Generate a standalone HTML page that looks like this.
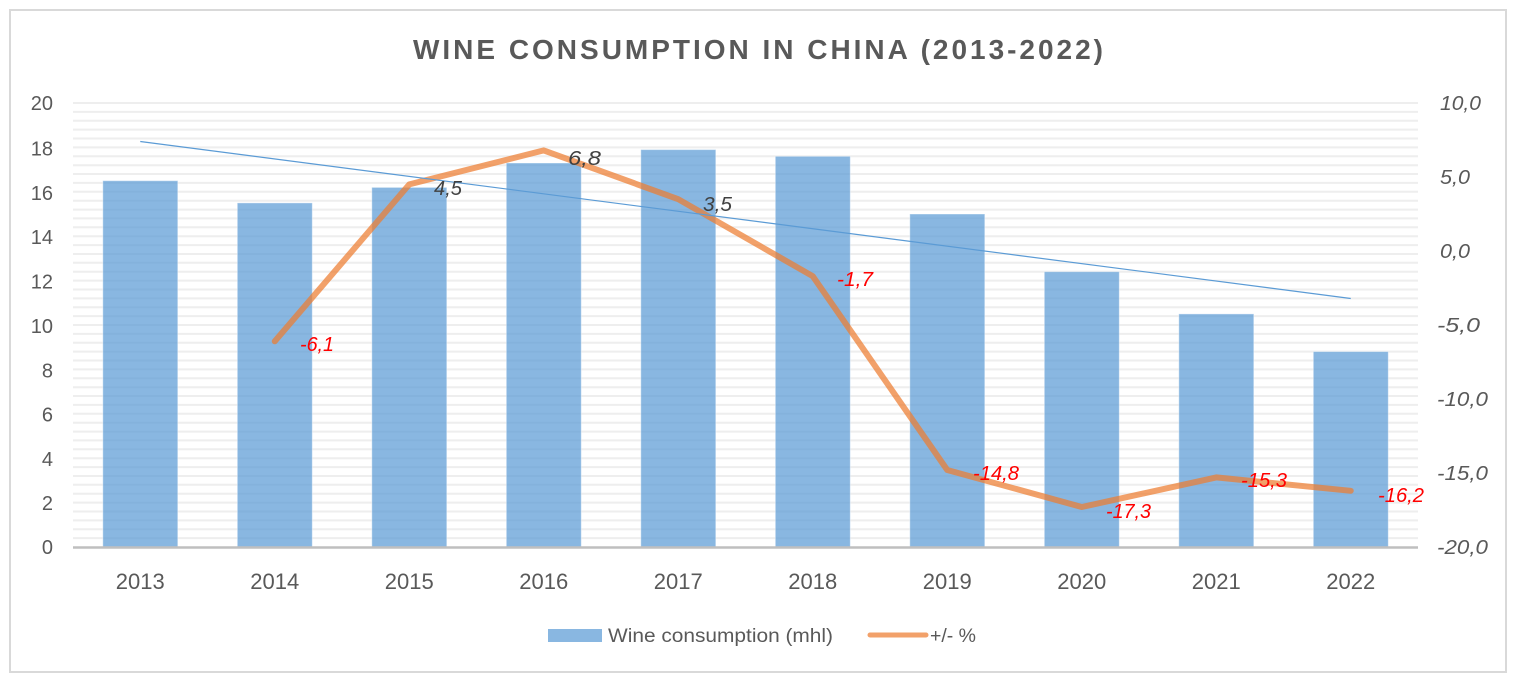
<!DOCTYPE html>
<html><head><meta charset="utf-8"><style>
html,body{margin:0;padding:0;background:#fff;}
svg{display:block;}
text{font-family:"Liberation Sans",sans-serif;}
</style></head><body>
<svg width="1516" height="680" viewBox="0 0 1516 680" xmlns="http://www.w3.org/2000/svg">
<rect x="0" y="0" width="1516" height="680" fill="#fff"/>
<rect x="10" y="10" width="1496" height="662" fill="#fff" stroke="#d9d9d9" stroke-width="2"/>
<text x="413" y="59" font-size="28" font-weight="bold" fill="#595959" textLength="690" lengthAdjust="spacing">WINE CONSUMPTION IN CHINA (2013-2022)</text>
<g stroke="#eeeeee" stroke-width="2">
<line x1="73" x2="1418" y1="103.0" y2="103.0"/><line x1="73" x2="1418" y1="111.9" y2="111.9"/><line x1="73" x2="1418" y1="120.8" y2="120.8"/><line x1="73" x2="1418" y1="129.6" y2="129.6"/><line x1="73" x2="1418" y1="138.5" y2="138.5"/><line x1="73" x2="1418" y1="147.4" y2="147.4"/><line x1="73" x2="1418" y1="156.3" y2="156.3"/><line x1="73" x2="1418" y1="165.2" y2="165.2"/><line x1="73" x2="1418" y1="174.0" y2="174.0"/><line x1="73" x2="1418" y1="182.9" y2="182.9"/><line x1="73" x2="1418" y1="191.8" y2="191.8"/><line x1="73" x2="1418" y1="200.7" y2="200.7"/><line x1="73" x2="1418" y1="209.6" y2="209.6"/><line x1="73" x2="1418" y1="218.4" y2="218.4"/><line x1="73" x2="1418" y1="227.3" y2="227.3"/><line x1="73" x2="1418" y1="236.2" y2="236.2"/><line x1="73" x2="1418" y1="245.1" y2="245.1"/><line x1="73" x2="1418" y1="254.0" y2="254.0"/><line x1="73" x2="1418" y1="262.8" y2="262.8"/><line x1="73" x2="1418" y1="271.7" y2="271.7"/><line x1="73" x2="1418" y1="280.6" y2="280.6"/><line x1="73" x2="1418" y1="289.5" y2="289.5"/><line x1="73" x2="1418" y1="298.4" y2="298.4"/><line x1="73" x2="1418" y1="307.2" y2="307.2"/><line x1="73" x2="1418" y1="316.1" y2="316.1"/><line x1="73" x2="1418" y1="325.0" y2="325.0"/><line x1="73" x2="1418" y1="333.9" y2="333.9"/><line x1="73" x2="1418" y1="342.8" y2="342.8"/><line x1="73" x2="1418" y1="351.6" y2="351.6"/><line x1="73" x2="1418" y1="360.5" y2="360.5"/><line x1="73" x2="1418" y1="369.4" y2="369.4"/><line x1="73" x2="1418" y1="378.3" y2="378.3"/><line x1="73" x2="1418" y1="387.2" y2="387.2"/><line x1="73" x2="1418" y1="396.0" y2="396.0"/><line x1="73" x2="1418" y1="404.9" y2="404.9"/><line x1="73" x2="1418" y1="413.8" y2="413.8"/><line x1="73" x2="1418" y1="422.7" y2="422.7"/><line x1="73" x2="1418" y1="431.6" y2="431.6"/><line x1="73" x2="1418" y1="440.4" y2="440.4"/><line x1="73" x2="1418" y1="449.3" y2="449.3"/><line x1="73" x2="1418" y1="458.2" y2="458.2"/><line x1="73" x2="1418" y1="467.1" y2="467.1"/><line x1="73" x2="1418" y1="476.0" y2="476.0"/><line x1="73" x2="1418" y1="484.8" y2="484.8"/><line x1="73" x2="1418" y1="493.7" y2="493.7"/><line x1="73" x2="1418" y1="502.6" y2="502.6"/><line x1="73" x2="1418" y1="511.5" y2="511.5"/><line x1="73" x2="1418" y1="520.4" y2="520.4"/><line x1="73" x2="1418" y1="529.2" y2="529.2"/><line x1="73" x2="1418" y1="538.1" y2="538.1"/>
</g>
<!-- bars -->
<g fill="#5B9BD5" fill-opacity="0.72" stroke="#ffffff" stroke-opacity="0.4" stroke-width="1">
<rect x="102.8" y="180.7" width="75" height="366.3"/>
<rect x="237.3" y="202.9" width="75" height="344.1"/>
<rect x="371.8" y="187.4" width="75" height="359.6"/>
<rect x="506.3" y="163.0" width="75" height="384.0"/>
<rect x="640.8" y="149.6" width="75" height="397.4"/>
<rect x="775.3" y="156.3" width="75" height="390.7"/>
<rect x="909.8" y="214.0" width="75" height="333.0"/>
<rect x="1044.3" y="271.7" width="75" height="275.3"/>
<rect x="1178.8" y="313.9" width="75" height="233.1"/>
<rect x="1313.3" y="351.6" width="75" height="195.4"/>
</g>
<line x1="73" x2="1418" y1="547.5" y2="547.5" stroke="#bfbfbf" stroke-width="2.5"/>
<!-- line series -->
<polyline fill="none" stroke="#ED7D31" stroke-opacity="0.72" stroke-width="6" stroke-linecap="round" stroke-linejoin="round"
 points="274.75,341.3 409.25,184.4 543.75,150.4 678.25,199.2 812.75,276.2 947.25,470.0 1081.75,507.0 1216.25,477.4 1350.75,490.8"/>
<!-- trendline -->
<line x1="140.25" y1="141.5" x2="1350.75" y2="298.5" stroke="#5B9BD5" stroke-width="1.2"/>
<!-- left axis -->
<g font-size="20" fill="#595959" text-anchor="end">
<text x="53" y="554">0</text><text x="53" y="510">2</text><text x="53" y="466">4</text><text x="53" y="421.5">6</text><text x="53" y="377.5">8</text>
<text x="53" y="333">10</text><text x="53" y="288.5">12</text><text x="53" y="244">14</text><text x="53" y="200">16</text><text x="53" y="155.5">18</text><text x="53" y="110">20</text>
</g>
<!-- right axis -->
<g font-size="20" fill="#595959" font-style="italic">
<text x="1440" y="110" textLength="41" lengthAdjust="spacingAndGlyphs">10,0</text>
<text x="1440" y="184" textLength="30" lengthAdjust="spacingAndGlyphs">5,0</text>
<text x="1440" y="258" textLength="30" lengthAdjust="spacingAndGlyphs">0,0</text>
<text x="1437" y="332" textLength="43" lengthAdjust="spacingAndGlyphs">-5,0</text>
<text x="1437" y="406" textLength="51" lengthAdjust="spacingAndGlyphs">-10,0</text>
<text x="1437" y="480" textLength="51" lengthAdjust="spacingAndGlyphs">-15,0</text>
<text x="1437" y="554" textLength="51" lengthAdjust="spacingAndGlyphs">-20,0</text>
</g>
<!-- x axis labels -->
<g font-size="22" fill="#595959" text-anchor="middle">
<text x="140.25" y="589">2013</text><text x="274.75" y="589">2014</text><text x="409.25" y="589">2015</text><text x="543.75" y="589">2016</text><text x="678.25" y="589">2017</text>
<text x="812.75" y="589">2018</text><text x="947.25" y="589">2019</text><text x="1081.75" y="589">2020</text><text x="1216.25" y="589">2021</text><text x="1350.75" y="589">2022</text>
</g>
<!-- data labels -->
<g font-size="20" font-style="italic">
<text x="300" y="351" fill="#ff0000" textLength="34" lengthAdjust="spacingAndGlyphs">-6,1</text>
<text x="434" y="195" fill="#404040" textLength="28" lengthAdjust="spacingAndGlyphs">4,5</text>
<text x="568" y="165" fill="#404040" textLength="33" lengthAdjust="spacingAndGlyphs">6,8</text>
<text x="703" y="211" fill="#404040" textLength="29" lengthAdjust="spacingAndGlyphs">3,5</text>
<text x="837" y="286" fill="#ff0000" textLength="36" lengthAdjust="spacingAndGlyphs">-1,7</text>
<text x="973" y="480" fill="#ff0000" textLength="46" lengthAdjust="spacingAndGlyphs">-14,8</text>
<text x="1106" y="518" fill="#ff0000" textLength="45" lengthAdjust="spacingAndGlyphs">-17,3</text>
<text x="1241" y="487" fill="#ff0000" textLength="46" lengthAdjust="spacingAndGlyphs">-15,3</text>
<text x="1378" y="502" fill="#ff0000" textLength="46" lengthAdjust="spacingAndGlyphs">-16,2</text>
</g>
<!-- legend -->
<rect x="548" y="629" width="54" height="13" fill="#5B9BD5" fill-opacity="0.72"/>
<text x="608" y="642" font-size="19" fill="#595959" textLength="225" lengthAdjust="spacingAndGlyphs">Wine consumption (mhl)</text>
<line x1="870" y1="635" x2="926" y2="635" stroke="#ED7D31" stroke-opacity="0.72" stroke-width="5" stroke-linecap="round"/>
<text x="930" y="642" font-size="19" fill="#595959" textLength="46" lengthAdjust="spacingAndGlyphs">+/- %</text>
</svg>
</body></html>
